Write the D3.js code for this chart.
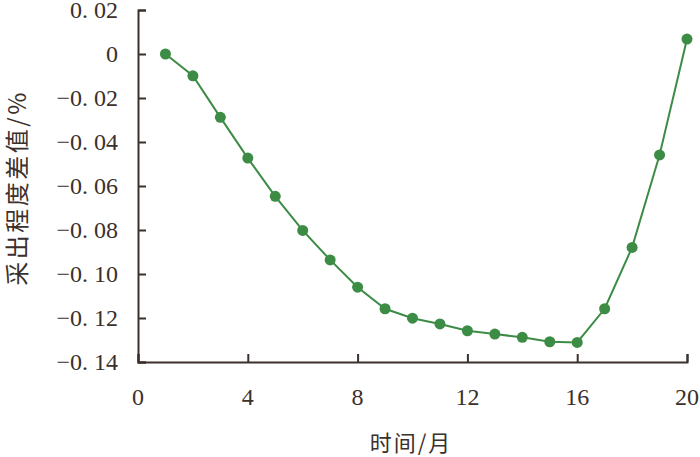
<!DOCTYPE html>
<html>
<head>
<meta charset="utf-8">
<script src="https://cdn.jsdelivr.net/npm/d3@7"></script>
<style>
  body { margin: 0; background: #fff; }
</style>
</head>
<body>
<div id="chart"></div>
<script>
const months = [1, 2, 3, 4, 5, 6, 7, 8, 9, 10, 11, 12, 13, 14, 15, 16, 17, 18, 19, 20]
const diffValues = [0, -0.0099, -0.0288, -0.0473, -0.0647, -0.0802, -0.0936, -0.106, -0.1158, -0.1201,
  -0.1227, -0.1258, -0.1273, -0.1288, -0.1308, -0.1311, -0.1158, -0.0879, -0.0459, 0.0068]
const xTicks = [0, 4, 8, 12, 16, 20]
const yTicks = [0.02, 0, -0.02, -0.04, -0.06, -0.08, -0.10, -0.12, -0.14]
const yTickLabels = ['0. 02', '0', '\u22120. 02', '\u22120. 04', '\u22120. 06', '\u22120. 08', '\u22120. 10', '\u22120. 12', '\u22120. 14']

const width = 700, height = 457
const axisColor = '#3b302b'
const green = '#3d8c46'
const numFont = '"Liberation Serif", "DejaVu Serif", serif'
const cjkFont = '"Noto Sans CJK SC", sans-serif'

const svg = d3.select('#chart').append('svg')
  .attr('width', width)
  .attr('height', height)

const x = d3.scaleLinear().domain([0, 20]).range([138, 687])
const y = d3.scaleLinear().domain([-0.14, 0.02]).range([362, 10])

// axes, ticks point inward
svg.append('g')
  .attr('transform', `translate(0,${y(-0.14)})`)
  .call(d3.axisTop(x).tickValues(xTicks).tickSize(8).tickFormat(''))
svg.append('g')
  .attr('transform', `translate(${x(0)},0)`)
  .call(d3.axisRight(y).tickValues(yTicks).tickSize(8).tickFormat(''))

svg.selectAll('.domain, .tick line')
  .attr('stroke', axisColor)
  .attr('stroke-width', 2)

// tick labels
svg.append('g').selectAll('text')
  .data(xTicks)
  .join('text')
  .attr('x', d => x(d))
  .attr('y', 405)
  .attr('text-anchor', 'middle')
  .attr('font-family', numFont)
  .attr('font-size', 24)
  .attr('fill', axisColor)
  .text(d => d)

svg.append('g').selectAll('text')
  .data(yTicks)
  .join('text')
  .attr('x', 118)
  .attr('y', d => y(d) + 8)
  .attr('text-anchor', 'end')
  .attr('font-family', numFont)
  .attr('font-size', 24)
  .attr('fill', axisColor)
  .text((d, i) => yTickLabels[i])

// axis titles
svg.append('text')
  .attr('x', 411)
  .attr('y', 451)
  .attr('text-anchor', 'middle')
  .attr('font-family', cjkFont)
  .attr('font-size', 22)
  .attr('letter-spacing', 2)
  .attr('fill', axisColor)
  .text('时间/月')

svg.append('text')
  .attr('transform', 'translate(26,188) rotate(-90)')
  .attr('text-anchor', 'middle')
  .attr('font-family', cjkFont)
  .attr('font-size', 24)
  .attr('letter-spacing', 2.5)
  .attr('fill', axisColor)
  .text('采出程度差值/%')

// series
const pts = months.map((m, i) => [m, diffValues[i]])
const line = d3.line()
  .x(d => x(d[0]))
  .y(d => y(d[1]))

svg.append('path')
  .datum(pts)
  .attr('d', line)
  .attr('fill', 'none')
  .attr('stroke', green)
  .attr('stroke-width', 2)

svg.append('g').selectAll('circle')
  .data(pts)
  .join('circle')
  .attr('cx', d => x(d[0]))
  .attr('cy', d => y(d[1]))
  .attr('r', 5.5)
  .attr('fill', green)
</script>
</body>
</html>
